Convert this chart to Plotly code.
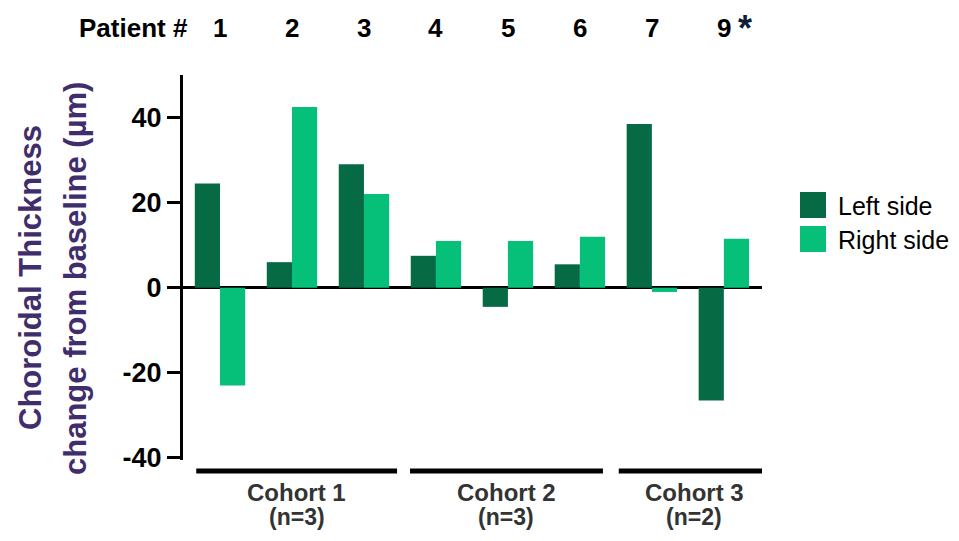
import plotly.graph_objects as go

patients = ["1", "2", "3", "4", "5", "6", "7", "9"]
left_side = [24.5, 6, 29, 7.5, -4.5, 5.5, 38.5, -26.5]
right_side = [-23, 42.5, 22, 11, 11, 12, -1, 11.5]
cohort_names = ["Cohort 1", "Cohort 2", "Cohort 3"]
cohort_sizes = ["(n=3)", "(n=3)", "(n=2)"]
cohort_spans = [(-0.33, 2.46), (2.64, 5.32), (5.54, 7.64)]
y_ticks = [-40, -20, 0, 20, 40]

DARK = "#066a45"
LIGHT = "#06c07a"
PURPLE = "#3f2e6b"
FONT = "Liberation Sans, Arial, sans-serif"

fig = go.Figure()
fig.add_trace(go.Bar(x=patients, y=left_side, name="Left side", marker_color=DARK,
                     marker_line_width=0))
fig.add_trace(go.Bar(x=patients, y=right_side, name="Right side", marker_color=LIGHT,
                     marker_line_width=0))

OFF = 8  # page body margin
W, H = 951, 525
L = 183 - OFF
T = 75 - OFF
R = W - (762 - OFF)
B = H - (460 - OFF)
pw = W - L - R
ph = H - T - B


def px_x(sx):
    return (sx - OFF - L) / pw


def px_y(sy):
    return (H - B - (sy - OFF)) / ph


fig.update_layout(
    width=W, height=H,
    margin=dict(l=L, r=R, t=T, b=B),
    plot_bgcolor="white", paper_bgcolor="white",
    barmode="group", bargap=0.3, bargroupgap=0,
    showlegend=False,
    font=dict(family=FONT, color="black"),
)
fig.update_xaxes(type="category", range=[-0.514, 7.53], showticklabels=False,
                 showline=False, showgrid=False, zeroline=False, ticks="")
fig.update_yaxes(range=[-40.5, 50], tickvals=y_ticks,
                 ticktext=[f"<b>{v}</b>" for v in y_ticks],
                 showline=True, linecolor="black", linewidth=3, ticks="outside",
                 ticklen=13, tickwidth=3, tickcolor="black", showgrid=False,
                 zeroline=True, zerolinecolor="black", zerolinewidth=3,
                 tickfont=dict(size=27, family=FONT, color="black"),
                 layer="above traces")

# Y title (two lines)
fig.add_annotation(text="<b>Choroidal Thickness</b>", xref="paper", yref="paper",
                   x=px_x(30), y=px_y(278), textangle=-90, showarrow=False,
                   xanchor="center", yanchor="middle",
                   font=dict(size=31, color=PURPLE, family=FONT))
fig.add_annotation(text="<b>change from baseline (µm)</b>", xref="paper", yref="paper",
                   x=px_x(75), y=px_y(279), textangle=-90, showarrow=False,
                   xanchor="center", yanchor="middle",
                   font=dict(size=31, color=PURPLE, family=FONT))

# Patient header
fig.add_annotation(text="<b>Patient #</b>", xref="paper", yref="paper",
                   x=px_x(133), y=px_y(28), showarrow=False, xanchor="center",
                   yanchor="middle", font=dict(size=26, family=FONT))
for i, p in enumerate(patients):
    fig.add_annotation(text=f"<b>{p}</b>", xref="x", yref="paper", x=i, y=px_y(28),
                       showarrow=False, xanchor="center", yanchor="middle",
                       font=dict(size=26, family=FONT))
fig.add_annotation(text="<b>*</b>", xref="paper", yref="paper", x=px_x(745), y=px_y(29),
                   showarrow=False, xanchor="center", yanchor="middle",
                   font=dict(size=36, family=FONT, color="#0d1f35"))

# Cohort bars & labels
for (x0, x1), nm, sz in zip(cohort_spans, cohort_names, cohort_sizes):
    xc = (x0 + x1) / 2
    fig.add_shape(type="line", xref="x", yref="paper", x0=x0, x1=x1,
                  y0=px_y(471), y1=px_y(471), line=dict(color="black", width=5))
    fig.add_annotation(text=f"<b>{nm}</b>", xref="x", yref="paper", x=xc,
                       y=px_y(493), showarrow=False, xanchor="center", yanchor="middle",
                       font=dict(size=24, family=FONT, color="#333333"))
    fig.add_annotation(text=f"<b>{sz}</b>", xref="x", yref="paper", x=xc,
                       y=px_y(532), showarrow=False, xanchor="center", yanchor="bottom",
                       font=dict(size=23, family=FONT, color="#333333"))

# Legend (custom, large swatches)
for i, (name, col) in enumerate([("Left side", DARK), ("Right side", LIGHT)]):
    y0 = 192 + i * 34
    fig.add_shape(type="rect", xref="paper", yref="paper", x0=px_x(800), x1=px_x(826),
                  y0=px_y(y0 + 26), y1=px_y(y0), fillcolor=col, line_width=0)
    fig.add_annotation(text=name, xref="paper", yref="paper", x=px_x(836),
                       y=px_y(y0 + 14), showarrow=False, xanchor="left", yanchor="middle",
                       font=dict(size=25, family=FONT, color="black"))

fig.write_html("out.html")
